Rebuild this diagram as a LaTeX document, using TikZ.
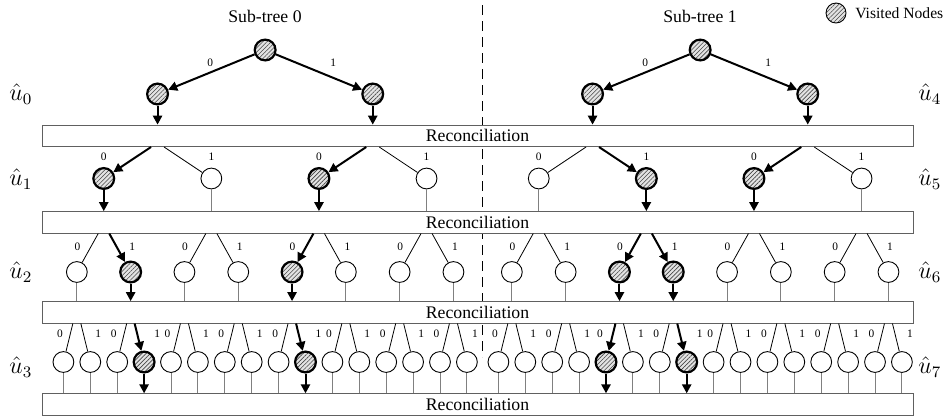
\documentclass[tikz,border=0pt]{standalone}
\usepackage{fontspec}
\setmainfont{Liberation Serif}
\usetikzlibrary{arrows.meta,patterns.meta,calc}

\begin{document}
\begin{tikzpicture}[x=0.5pt,y=-0.5pt,
  tnode/.style={circle,draw,line width=0.45pt,minimum size=10.4pt,inner sep=0pt,fill=white},
  vnode/.style={circle,draw,line width=1.1pt,minimum size=10.4pt,inner sep=0pt,
    preaction={fill=gray!22},
    pattern={Lines[angle=45,distance=1.5pt,line width=0.3pt]},pattern color=gray!55!black},
  legendnode/.style={vnode,line width=0.45pt,minimum size=10pt},
  hit/.style={line width=1pt,-{Triangle[length=4.5pt,width=4.6pt]}},
  miss/.style={line width=0.4pt},
  stem/.style={line width=0.5pt,draw=gray},
  divider/.style={line width=0.7pt,dash pattern=on 5pt off 3pt},
  recbox/.style={draw=gray!75!black,line width=0.5pt,fill=white,minimum width=435.5pt,
    minimum height=10.7pt,inner sep=0pt,font=\fontsize{8.85}{10}\selectfont},
  title/.style={inner sep=0pt,font=\fontsize{8.85}{10}\selectfont},
  legendtext/.style={inner sep=0pt,anchor=west,font=\fontsize{7.8}{9}\selectfont},
  bit/.style={inner sep=0pt,font=\fontsize{5.7}{6}\selectfont},
  lvl/.style={inner sep=0pt,anchor=west,font=\fontsize{11.5}{12}\selectfont},
]
\useasboundingbox (0,0) rectangle (947,419);

% dashed divider between the two sub-trees
\coordinate (divtop) at (482.5,5);
\coordinate (divbot) at (482.5,357);
\draw[divider] (divtop) -- (divbot);

% reconciliation bars
\node[recbox] (box1) at (477.5,135.8) {Reconciliation};
\node[recbox] (box2) at (477.5,222.3) {Reconciliation};
\node[recbox] (box3) at (477.5,312.3) {Reconciliation};
\node[recbox] (box4) at (477.5,404.5) {Reconciliation};

% titles and legend
\node[title] (st0) at (265,16) {Sub-tree 0};
\node[title] (st1) at (700,16) {Sub-tree 1};
\node[legendnode] (lgc) at (836,13) {};
\node[legendtext] (lgt) at (855,13) {Visited Nodes};

% level labels
\node[lvl] (u0) at (9,94) {$\hat{u}_0$};
\node[lvl] (u1) at (9,179) {$\hat{u}_1$};
\node[lvl] (u2) at (9,272) {$\hat{u}_2$};
\node[lvl] (u3) at (9,367) {$\hat{u}_3$};
\node[lvl] (u4) at (918,94) {$\hat{u}_4$};
\node[lvl] (u5) at (918,179) {$\hat{u}_5$};
\node[lvl] (u6) at (918,272) {$\hat{u}_6$};
\node[lvl] (u7) at (918,367) {$\hat{u}_7$};

% tree nodes: leaf spacing 26.9, right sub-tree shifted by 4.6 extra
\foreach \r in {0,1} {
  \pgfmathsetmacro\xx{63.4+430.4*\r+4.6*\r+201.75}
  \node[vnode] (R-\r) at (\xx,50) {};
}
\foreach \n in {0,...,3} {
  \pgfmathsetmacro\xx{63.4+215.2*\n+4.6*(\n>1)+94.15}
  \node[vnode] (A-\n) at (\xx,94) {};
}
\foreach \m in {0,...,7} {
  \pgfmathsetmacro\xx{63.4+107.6*\m+4.6*(\m>3)+40.35}
  \pgfmathtruncatemacro\v{(\m==0)||(\m==2)||(\m==5)||(\m==6)}
  \ifnum\v=1 \def\st{vnode}\else\def\st{tnode}\fi
  \node[\st] (B-\m) at (\xx,178.5) {};
}
\foreach \k in {0,...,15} {
  \pgfmathsetmacro\xx{63.4+53.8*\k+4.6*(\k>7)+13.45}
  \pgfmathtruncatemacro\v{(\k==1)||(\k==4)||(\k==10)||(\k==11)}
  \ifnum\v=1 \def\st{vnode}\else\def\st{tnode}\fi
  \node[\st] (C-\k) at (\xx,272) {};
}
\foreach \g in {0,...,31} {
  \pgfmathsetmacro\xx{63.4+26.9*\g+4.6*(\g>15)}
  \pgfmathtruncatemacro\v{(\g==3)||(\g==9)||(\g==20)||(\g==23)}
  \ifnum\v=1 \def\st{vnode}\else\def\st{tnode}\fi
  \node[\st] (D-\g) at (\xx,362) {};
}

% root to first level
\foreach \n in {0,...,3} {
  \pgfmathtruncatemacro\p{floor(\n/2)}
  \pgfmathsetmacro\lx{ifthenelse(mod(\n,2)==0,-55,68)}
  \pgfmathtruncatemacro\b{mod(\n,2)}
  \draw[hit] (R-\p) -- (A-\n);
  \node[bit] (a-lab-\n) at ($(R-\p)+(\lx,13)$) {\b};
  \draw[hit] (A-\n) -- (A-\n |- box1.north);
}

% first bar to second level
\foreach \m in {0,...,7} {
  \pgfmathtruncatemacro\p{floor(\m/2)}
  \pgfmathtruncatemacro\b{mod(\m,2)}
  \pgfmathsetmacro\dx{ifthenelse(\b==0,-6.5,6.5)}
  \pgfmathtruncatemacro\v{(\m==0)||(\m==2)||(\m==5)||(\m==6)}
  \ifnum\v=1 \def\es{hit}\def\ss{hit}\else\def\es{miss}\def\ss{stem}\fi
  \draw[\es] ($(box1.south -| A-\p)+(\dx,0)$) -- (B-\m);
  \node[bit] (b-lab-\m) at (B-\m |- 0,157) {\b};
  \draw[\ss] (B-\m) -- (B-\m |- box2.north);
}

% second bar to third level
\foreach \k in {0,...,15} {
  \pgfmathtruncatemacro\p{floor(\k/2)}
  \pgfmathtruncatemacro\b{mod(\k,2)}
  \pgfmathsetmacro\dx{ifthenelse(\b==0,-5.5,5.5)}
  \pgfmathsetmacro\lx{ifthenelse(\b==0,0.5,1.5)}
  \pgfmathtruncatemacro\v{(\k==1)||(\k==4)||(\k==10)||(\k==11)}
  \ifnum\v=1 \def\es{hit}\def\ss{hit}\else\def\es{miss}\def\ss{stem}\fi
  \draw[\es] ($(box2.south -| B-\p)+(\dx,0)$) -- (C-\k);
  \node[bit] (c-lab-\k) at ($(C-\k |- 0,247)+(\lx,0)$) {\b};
  \draw[\ss] (C-\k) -- (C-\k |- box3.north);
}

% third bar to leaves
\foreach \g in {0,...,31} {
  \pgfmathtruncatemacro\p{floor(\g/2)}
  \pgfmathtruncatemacro\b{mod(\g,2)}
  \pgfmathsetmacro\dx{ifthenelse(\b==0,-4,4)}
  \pgfmathtruncatemacro\v{(\g==3)||(\g==9)||(\g==20)||(\g==23)}
  \ifnum\v=1
    \def\es{hit}\def\ss{hit}
    \pgfmathsetmacro\lx{ifthenelse(\b==0,-6,13)}
  \else
    \def\es{miss}\def\ss{stem}
    \pgfmathsetmacro\lx{ifthenelse(\b==0,-3.5,8)}
  \fi
  \draw[\es] ($(box3.south -| C-\p)+(\dx,0)$) -- (D-\g);
  \node[bit] (d-lab-\g) at ($(D-\g |- 0,334)+(\lx,0)$) {\b};
  \draw[\ss] (D-\g) -- (D-\g |- box4.north);
}
\end{tikzpicture}
\end{document}
